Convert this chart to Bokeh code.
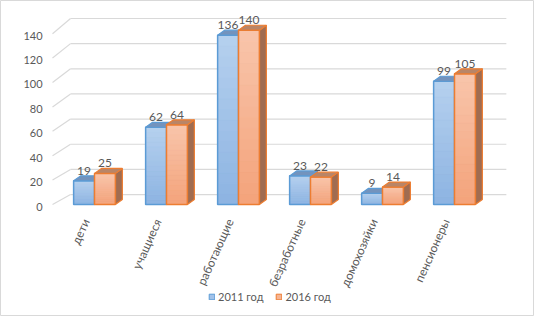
import math
import numpy as np
from bokeh.plotting import figure
from bokeh.models import Legend, LegendItem, Range1d
from bokeh.core.properties import value
from bokeh.embed import file_html
from bokeh.resources import INLINE

# ---- data ----
categories = ["дети", "учащиеся", "работающие", "безработные", "домохозяйки", "пенсионеры"]
series_names = ["2011 год", "2016 год"]
values_2011 = [19, 62, 136, 23, 9, 99]
values_2016 = [25, 64, 140, 22, 14, 105]
y_ticks = [0, 20, 40, 60, 80, 100, 120, 140]
y_tick_labels = [str(t) for t in y_ticks]

# ---- style / geometry ----
FONT = "Lato"
TXT = "#595959"
GRID = "#d9d9d9"
BAR_W = 0.29          # width of one bar in category units
DEPTH_X = 0.097       # 3-D depth offset (category units)
DEPTH_Y = 4.0         # 3-D depth offset (value units)
WALL_X0 = -0.583      # front-left corner of the side wall
WALL_DX = 0.25        # back wall offset
WALL_DY = 8.0
WALL_X1 = 5.72
WALL_SCALE = 1.01
FRONT_SCALE = 0.98
TICK_X = -0.722
CAT_Y = -12.0
CAT_SHIFT = -0.12
CAT_ANGLE = 1.15
N_SLICES = 16

styles = [
    dict(top="#b6d1ef", bottom="#8db4e2", mid="#a2c2e9", edge="#5b9bd5", lid="#7393bd", side="#6a8ab3"),
    dict(top="#f9c6ac", bottom="#f4a37b", mid="#f6b493", edge="#ed7d31", lid="#b98567", side="#a06c51"),
]

p = figure(width=534, height=316, output_backend="svg", toolbar_location=None,
           x_range=Range1d(-1.3056, 6.1111), y_range=Range1d(-89.96, 163.86),
           x_axis_location=None, y_axis_location=None, min_border=0)
p.outline_line_color = "#d9d9d9"
p.outline_line_width = 1
p.background_fill_color = "white"
p.border_fill_color = "white"
p.xgrid.visible = False
p.ygrid.visible = False

# back wall grid lines and left side wall lines
gx0 = WALL_X0 + WALL_DX
back_y = [v * WALL_SCALE + WALL_DY for v in y_ticks]
p.segment(x0=[gx0] * len(y_ticks), x1=[WALL_X1] * len(y_ticks), y0=back_y, y1=back_y,
          line_color=GRID, line_width=1.2)
p.segment(x0=[WALL_X0] * len(y_ticks), x1=[gx0] * len(y_ticks),
          y0=[v * FRONT_SCALE for v in y_ticks], y1=back_y, line_color=GRID, line_width=1.2)

# value-axis labels
p.text(x=[TICK_X] * len(y_ticks), y=[v * FRONT_SCALE for v in y_ticks], text=y_tick_labels,
       text_font=value(FONT), text_font_size="11px", text_color=TXT,
       text_align="right", text_baseline="middle", y_offset=2)

# category labels (rotated)
p.text(x=[i + CAT_SHIFT for i in range(len(categories))], y=[CAT_Y] * len(categories),
       text=categories, angle=CAT_ANGLE, text_font=value(FONT), text_font_size="12px",
       text_color=TXT, text_align="right", text_baseline="middle")

legend_items = []
for s, vals in enumerate([values_2011, values_2016]):
    st = styles[s]
    xs0 = np.arange(len(categories)) - BAR_W + s * BAR_W
    xs1 = xs0 + BAR_W
    vals = np.array(vals, dtype=float)
    side_xs, side_ys, top_xs, top_ys = [], [], [], []
    for a, b, v in zip(xs0, xs1, vals):
        side_xs.append([b, b + DEPTH_X, b + DEPTH_X, b])
        side_ys.append([0, DEPTH_Y, v + DEPTH_Y, v])
        top_xs.append([a, b, b + DEPTH_X, a + DEPTH_X])
        top_ys.append([v, v, v + DEPTH_Y, v + DEPTH_Y])
    p.patches(side_xs, side_ys, fill_color=st["side"], line_color=st["edge"], line_width=1.2)
    # base front face (also used for the legend swatch)
    base = p.quad(left=xs0, right=xs1, bottom=0, top=vals, fill_color=st["mid"],
                  line_color=st["edge"], line_width=1)
    c_top = np.array([int(st["top"][i:i + 2], 16) for i in (1, 3, 5)])
    c_bot = np.array([int(st["bottom"][i:i + 2], 16) for i in (1, 3, 5)])
    ql, qr, qb, qt, qc = [], [], [], [], []
    for a, b, v in zip(xs0, xs1, vals):
        for k in range(N_SLICES):
            f = (k + 0.5) / N_SLICES
            c = (c_bot + (c_top - c_bot) * f).astype(int)
            ql.append(a); qr.append(b)
            qb.append(v * k / N_SLICES); qt.append(v * (k + 1) / N_SLICES)
            qc.append("#%02x%02x%02x" % tuple(c))
    p.quad(left=ql, right=qr, bottom=qb, top=qt, fill_color=qc, line_color=qc, line_width=0.5)
    p.quad(left=xs0, right=xs1, bottom=0, top=vals, fill_color=None,
           line_color=st["edge"], line_width=1.5)
    p.patches(top_xs, top_ys, fill_color=st["lid"], line_color=st["edge"], line_width=1.2)
    p.text(x=(xs0 + xs1) / 2, y=vals + DEPTH_Y, text=[str(int(v)) for v in vals],
           text_font=value(FONT), text_align="center", text_baseline="bottom",
           text_color=TXT, text_font_size="12px", y_offset=-1)
    legend_items.append(LegendItem(label=series_names[s], renderers=[base]))

legend = Legend(items=legend_items, orientation="horizontal", location=(208, 13),
                glyph_width=7, glyph_height=7, label_height=14, label_standoff=3, spacing=12,
                label_text_font=FONT, label_text_font_size="11px", label_text_color=TXT,
                border_line_color=None, background_fill_alpha=0, padding=0, margin=0)
p.add_layout(legend, "center")

open("out.html", "w").write(file_html(p, INLINE))
